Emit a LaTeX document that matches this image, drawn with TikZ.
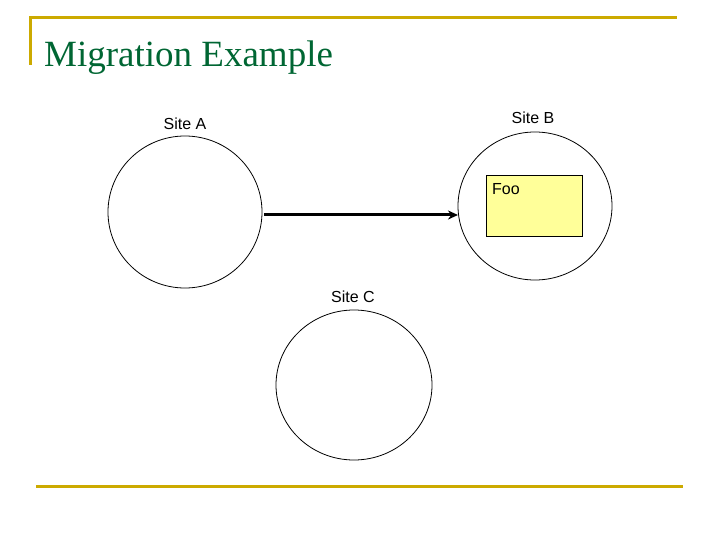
\documentclass[tikz,border=0pt]{standalone}
\usepackage{fontspec}
\usetikzlibrary{arrows.meta}
\setmainfont{Liberation Serif}
\newfontfamily\arial{Liberation Sans}
\definecolor{gold}{RGB}{204,170,0}
\definecolor{titlegreen}{RGB}{0,102,51}
\definecolor{fooyellow}{RGB}{255,255,153}
\begin{document}
\begin{tikzpicture}[x=1pt,y=-1pt,
  lbl/.style={font=\arial\fontsize{16}{19}\selectfont},
  goldline/.style={gold,line width=3pt}]
\useasboundingbox (0,0) rectangle (720,540);
\draw[goldline] (30,65) -- (30,18) -- (677,18);
\draw[goldline] (36,486) -- (683,486);
\node[anchor=base west,text=titlegreen,font=\fontsize{37}{42}\selectfont,inner sep=0] (title) at (44,67) {Migration Example};
\draw[line width=0.8pt] (185,212) ellipse [x radius=77, y radius=76];
\coordinate (A) at (185,212);
\draw[line width=0.8pt] (535,206) ellipse [x radius=77, y radius=74];
\coordinate (B) at (535,206);
\draw[line width=0.8pt] (354,385) ellipse [x radius=78, y radius=75];
\coordinate (C) at (354,385);
\node[lbl] (la) at (185,124) {Site A};
\node[lbl] (lb) at (533,118) {Site B};
\node[lbl] (lc) at (353,297) {Site C};
\node[draw,fill=fooyellow,line width=0.6pt,minimum width=96pt,minimum height=61pt,anchor=north west,inner sep=0] (foo) at (486,175) {};
\node[lbl,anchor=west,inner sep=0] (foot) at (492,189) {Foo};
\coordinate (s) at (264,215);
\coordinate (t) at (458,215);
\draw[line width=3pt,-{Stealth[length=10pt,width=9pt]}] (s) -- (t);
\end{tikzpicture}
\end{document}
